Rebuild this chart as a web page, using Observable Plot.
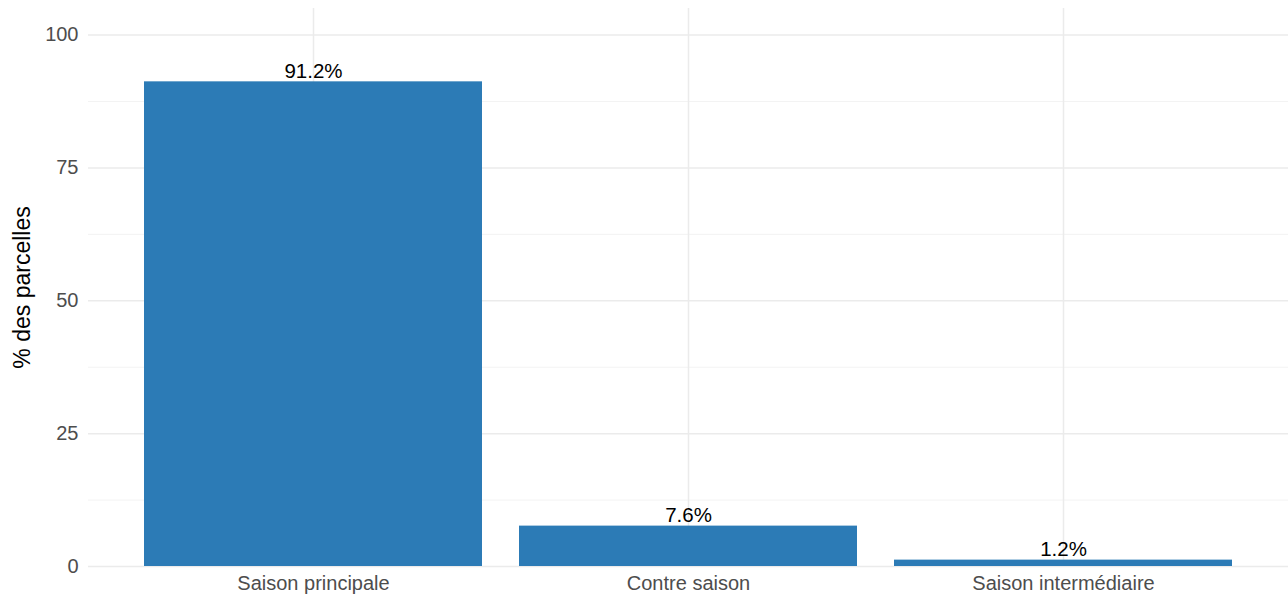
<!DOCTYPE html>
<html>
<head>
<meta charset="utf-8">
<script src="https://cdn.jsdelivr.net/npm/d3@7"></script>
<script src="https://cdn.jsdelivr.net/npm/@observablehq/plot@0.6"></script>
<style>
  html, body { margin: 0; padding: 0; background: #fff; }
  #chart svg { display: block; }
</style>
</head>
<body>
<div id="chart"></div>
<script>
const categories = ["Saison principale", "Contre saison", "Saison intermédiaire"];
const values = [91.2, 7.6, 1.2];
const majorTicks = [0, 25, 50, 75, 100];
const minorTicks = [12.5, 37.5, 62.5, 87.5];

const data = categories.map((c, i) => ({ cat: c, val: values[i] }));
const font = "'Liberation Sans', Arial, sans-serif";

const chart = Plot.plot({
  width: 1288,
  height: 598,
  marginLeft: 88,
  marginRight: 0,
  marginTop: 8,
  marginBottom: 32,
  style: { fontFamily: font, background: "#fff" },
  x: { type: "band", domain: categories, paddingInner: 0.1, paddingOuter: 0.15, align: 0.5, label: null },
  y: { domain: [0, 105], label: null },
  marks: [
    Plot.ruleY(minorTicks, { stroke: "#f3f3f3", strokeWidth: 1 }),
    Plot.ruleY(majorTicks, { stroke: "#ebebeb", strokeWidth: 1.5 }),
    Plot.ruleX(categories, { x: d => d, stroke: "#ebebeb", strokeWidth: 1.5 }),
    Plot.barY(data, { x: "cat", y: "val", fill: "#2c7bb6" }),
    Plot.text(data, { x: "cat", y: "val", text: d => d.val.toFixed(1) + "%", dy: -10.5, fontSize: 20.5, fill: "#000", fontFamily: font }),
    Plot.axisY(majorTicks, { tickSize: 0, tickPadding: 10, fontSize: 20, color: "#4d4d4d", label: null }),
    Plot.axisX({ tickSize: 0, tickPadding: 9, fontSize: 20, color: "#4d4d4d", label: null }),
    Plot.text(["% des parcelles"], { frameAnchor: "left", textAnchor: "middle", dx: -66, rotate: -90, fontSize: 23, fill: "#000", fontFamily: font })
  ]
});
document.getElementById("chart").appendChild(chart);
</script>
</body>
</html>
